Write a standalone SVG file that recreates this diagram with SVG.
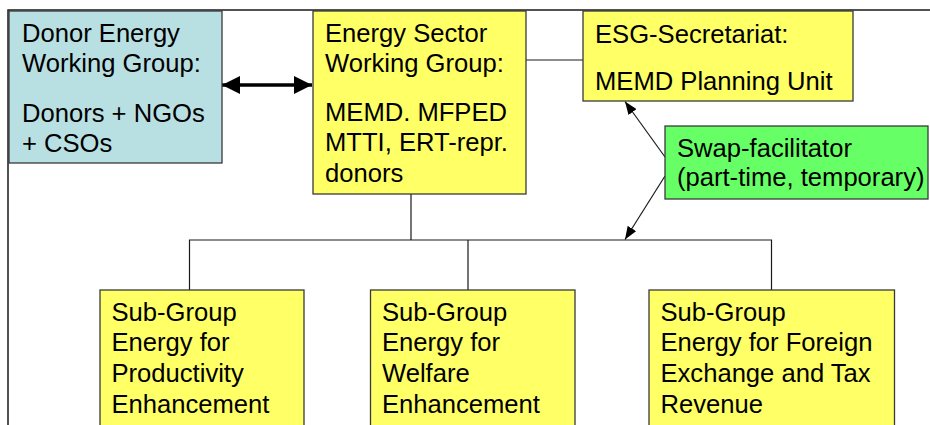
<svg xmlns="http://www.w3.org/2000/svg" width="930" height="425" viewBox="0 0 930 425">
<defs>
<style>
.box{stroke:#3a3a3a;stroke-width:1.3}
.y{fill:#FFFF66}
.b{fill:#B8DFE2}
.g{fill:#66FF66}
text{font-family:"Liberation Sans",Arial,sans-serif;font-size:25.6px;fill:#000}
.ln{stroke:#1a1a1a;stroke-width:1.2;fill:none}
</style>
<marker id="hb" viewBox="0 0 18 18" refX="18" refY="9" markerWidth="18" markerHeight="18" markerUnits="userSpaceOnUse" orient="auto-start-reverse">
<path d="M0,0 L18,9 L0,18 Z" fill="#000"/>
</marker>
<marker id="ht" viewBox="0 0 13 10" refX="13" refY="5" markerWidth="13" markerHeight="10" markerUnits="userSpaceOnUse" orient="auto">
<path d="M0,0 L13,5 L0,10 Z" fill="#000"/>
</marker>
</defs>
<rect width="930" height="425" fill="#fff"/>
<path d="M8,425 V10 H930" stroke="#1a1a1a" stroke-width="1.5" fill="none"/>

<g id="connectors">
<line x1="222" y1="85" x2="312" y2="85" stroke="#000" stroke-width="3.5" marker-start="url(#hb)" marker-end="url(#hb)"/>
<line class="ln" x1="526" y1="60" x2="583" y2="60"/>
<path class="ln" d="M411,194 V240 M189.5,290 V240 H771.5 V290 M468,240 V290"/>
<line class="ln" x1="665" y1="157" x2="625" y2="101.5" marker-end="url(#ht)"/>
<line class="ln" x1="665" y1="176" x2="625" y2="239.5" marker-end="url(#ht)"/>
</g>

<g id="donor">
<rect class="box b" x="9" y="11" width="213" height="152"/>
<text x="22" y="42">Donor Energy</text>
<text x="22" y="72">Working Group:</text>
<text x="22" y="121.5">Donors + NGOs</text>
<text x="22" y="151.5">+ CSOs</text>
</g>

<g id="eswg">
<rect class="box y" x="313" y="11" width="213" height="183"/>
<text x="325" y="42">Energy Sector</text>
<text x="325" y="72">Working Group:</text>
<text x="325" y="120.5">MEMD. MFPED</text>
<text x="325" y="151">MTTI, ERT-repr.</text>
<text x="325" y="181.5">donors</text>
</g>

<g id="secretariat">
<rect class="box y" x="583" y="11" width="270" height="90"/>
<text x="595" y="42.5">ESG-Secretariat:</text>
<text x="595" y="90">MEMD Planning Unit</text>
</g>

<g id="swap">
<rect class="box g" x="665" y="126" width="263" height="73"/>
<text x="677" y="157">Swap-facilitator</text>
<text x="677" y="186">(part-time, temporary)</text>
</g>

<g id="sub1">
<rect class="box y" x="100" y="290" width="204" height="150"/>
<text x="111.5" y="320.5">Sub-Group</text>
<text x="111.5" y="351">Energy for</text>
<text x="111.5" y="381.5">Productivity</text>
<text x="111.5" y="413">Enhancement</text>
</g>

<g id="sub2">
<rect class="box y" x="370.5" y="290" width="204.5" height="150"/>
<text x="382" y="320.5">Sub-Group</text>
<text x="382" y="351">Energy for</text>
<text x="382" y="381.5">Welfare</text>
<text x="382" y="413">Enhancement</text>
</g>

<g id="sub3">
<rect class="box y" x="649" y="290" width="245.5" height="150"/>
<text x="660.5" y="320.5">Sub-Group</text>
<text x="660.5" y="351">Energy for Foreign</text>
<text x="660.5" y="381.5">Exchange and Tax</text>
<text x="660.5" y="413">Revenue</text>
</g>
</svg>
